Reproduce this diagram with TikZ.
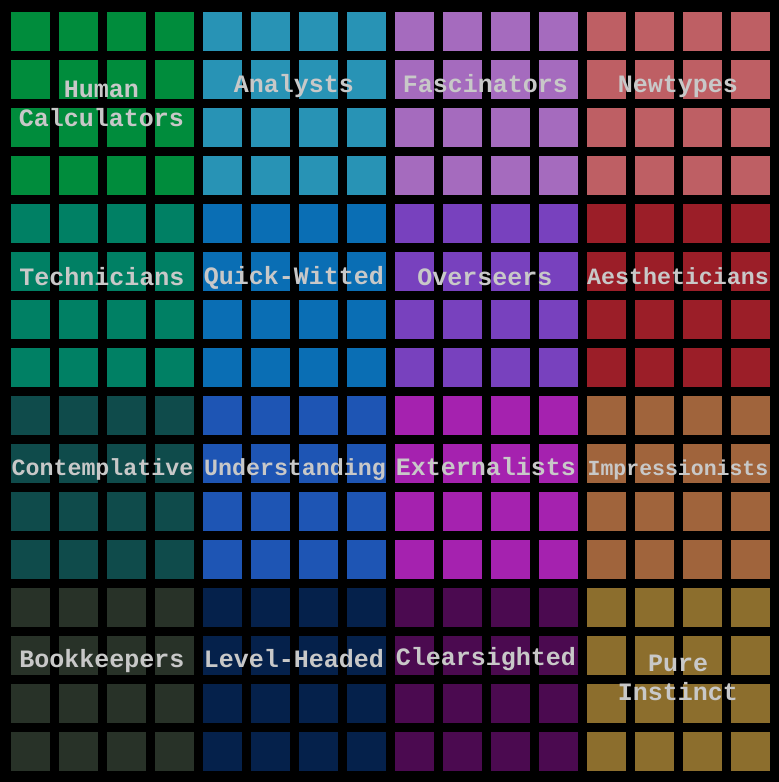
\documentclass[tikz,border=0pt]{standalone}
\usepackage{fontspec}
\setmonofont{Liberation Mono}
\usepackage{tikz}

\definecolor{cHuman}{RGB}{0,140,60}
\definecolor{cAnalyst}{RGB}{40,147,181}
\definecolor{cFascin}{RGB}{165,107,190}
\definecolor{cNewtype}{RGB}{190,95,100}
\definecolor{cTechn}{RGB}{0,128,100}
\definecolor{cQuick}{RGB}{10,110,180}
\definecolor{cOversee}{RGB}{120,65,190}
\definecolor{cAesth}{RGB}{155,30,40}
\definecolor{cContem}{RGB}{15,75,75}
\definecolor{cUnder}{RGB}{30,85,180}
\definecolor{cExtern}{RGB}{165,34,175}
\definecolor{cImpress}{RGB}{160,100,60}
\definecolor{cBook}{RGB}{40,50,40}
\definecolor{cLevel}{RGB}{5,33,75}
\definecolor{cClear}{RGB}{75,10,80}
\definecolor{cPure}{RGB}{140,110,45}
\definecolor{lblgray}{RGB}{200,200,200}

\tikzset{
  cell/.style={draw=none},
  lbl/.style={text=lblgray, font=\fontsize{25}{29}\selectfont\ttfamily\bfseries,
    inner sep=0pt, anchor=base, align=center},
  lblsmall/.style={lbl, font=\fontsize{23.3}{29}\selectfont\ttfamily\bfseries},
  lbltiny/.style={lbl, font=\fontsize{21.5}{29}\selectfont\ttfamily\bfseries}
}

\begin{document}
\begin{tikzpicture}[x=1pt,y=-1pt]
    \fill[black] (0,0) rectangle (779,782);
    \useasboundingbox (0,0) rectangle (779,782);

    % blocks of 4x4 squares
    \foreach \bc/\br/\col in {0/0/cHuman,1/0/cAnalyst,2/0/cFascin,3/0/cNewtype,
                             0/1/cTechn,1/1/cQuick,2/1/cOversee,3/1/cAesth,
                             0/2/cContem,1/2/cUnder,2/2/cExtern,3/2/cImpress,
                             0/3/cBook,1/3/cLevel,2/3/cClear,3/3/cPure}
      \foreach \i in {0,...,3}
        \foreach \j in {0,...,3}
          \fill[cell, fill=\col] ({11+48*(4*\bc+\i)},{12+48*(4*\br+\j)}) rectangle +(39,39);

    % labels
    \node[lbl] (human) at (101.5,126) {Human\\Calculators};
    \node[lbl] (analysts) at (294,92) {Analysts};
    \node[lbl] (fascinators) at (485.5,92) {Fascinators};
    \node[lbl] (newtypes) at (678,92) {Newtypes};

    \node[lbl] (technicians) at (102,285) {Technicians};
    \node[lbl] (quick) at (294,284) {Quick-Witted};
    \node[lbl] (overseers) at (485,285) {Overseers};
    \node[lblsmall] (aesth) at (678,284) {Aestheticians};

    \node[lblsmall] (contemp) at (102.5,475) {Contemplative};
    \node[lblsmall] (under) at (295,475) {Understanding};
    \node[lbl] (extern) at (486,475) {Externalists};
    \node[lbltiny] (impress) at (678,475) {Impressionists};

    \node[lbl] (bookkeepers) at (102,667) {Bookkeepers};
    \node[lbl] (level) at (294,667) {Level-Headed};
    \node[lbl] (clear) at (486,665) {Clearsighted};
    \node[lbl] (pure) at (678,700) {Pure\\Instinct};
  \end{tikzpicture}
\end{document}
